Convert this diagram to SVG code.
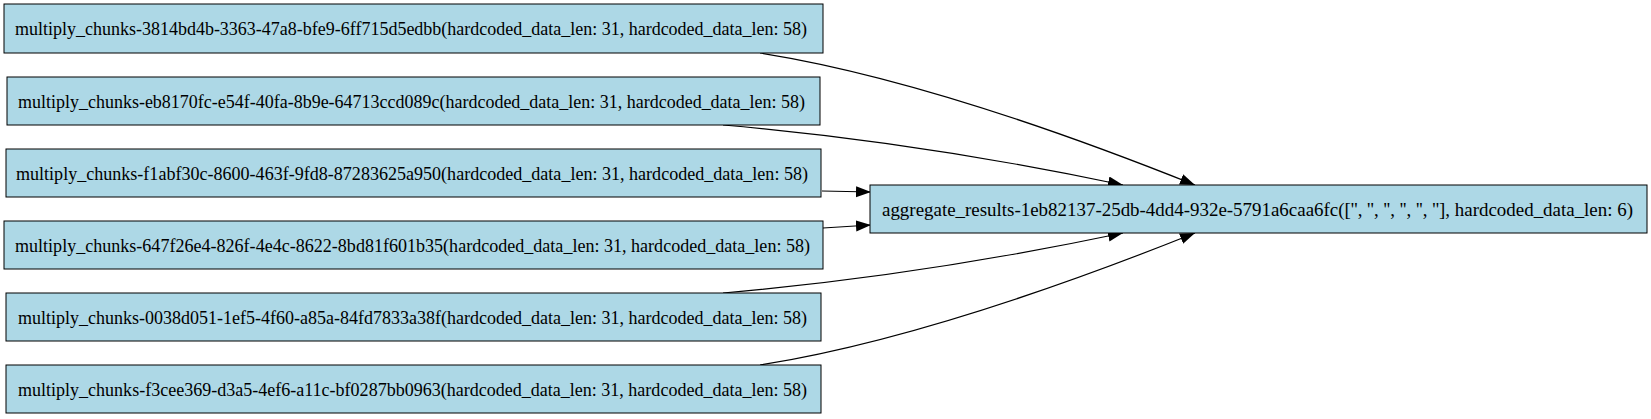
<svg xmlns="http://www.w3.org/2000/svg" width="1651" height="419" viewBox="0 0 1651 419">
<style>
.node rect{fill:#add8e6;stroke:#000;stroke-width:1}
.node text{font-family:'Liberation Serif','Times New Roman',serif;font-size:19px;fill:#000;text-anchor:middle}
.edge path{fill:none;stroke:#000;stroke-width:1.2}
</style>
<defs>
<marker id="arr" markerUnits="userSpaceOnUse" markerWidth="16" markerHeight="12" refX="15" refY="5.5" orient="auto">
<path d="M0,0 L15,5.5 L0,11 z" fill="#000"/>
</marker>
</defs>
<rect width="1651" height="419" fill="#fff"/>
<g id="edges" class="edge">
<path d="M760,53 C880,72 1020,115 1195,185" marker-end="url(#arr)"/>
<path d="M723,125 C850,136 990,157 1123,185" marker-end="url(#arr)"/>
<path d="M822,191 L871,192" marker-end="url(#arr)"/>
<path d="M823,228 L871,225" marker-end="url(#arr)"/>
<path d="M723,293 C850,282 990,261 1123,233" marker-end="url(#arr)"/>
<path d="M760,365 C880,346 1020,303 1195,233" marker-end="url(#arr)"/>
</g>
<g id="n1" class="node"><rect x="4" y="4" width="819" height="49"/><text x="411" y="35" textLength="792" lengthAdjust="spacingAndGlyphs">multiply_chunks-3814bd4b-3363-47a8-bfe9-6ff715d5edbb(hardcoded_data_len: 31, hardcoded_data_len: 58)</text></g>
<g id="n2" class="node"><rect x="7" y="77" width="813" height="48"/><text x="411.5" y="107.5" textLength="787" lengthAdjust="spacingAndGlyphs">multiply_chunks-eb8170fc-e54f-40fa-8b9e-64713ccd089c(hardcoded_data_len: 31, hardcoded_data_len: 58)</text></g>
<g id="n3" class="node"><rect x="6" y="149" width="815" height="48"/><text x="412" y="179.5" textLength="792" lengthAdjust="spacingAndGlyphs">multiply_chunks-f1abf30c-8600-463f-9fd8-87283625a950(hardcoded_data_len: 31, hardcoded_data_len: 58)</text></g>
<g id="n4" class="node"><rect x="4" y="221" width="819" height="48"/><text x="412.5" y="251.5" textLength="795" lengthAdjust="spacingAndGlyphs">multiply_chunks-647f26e4-826f-4e4c-8622-8bd81f601b35(hardcoded_data_len: 31, hardcoded_data_len: 58)</text></g>
<g id="n5" class="node"><rect x="6" y="293" width="815" height="48"/><text x="412.5" y="323.5" textLength="789" lengthAdjust="spacingAndGlyphs">multiply_chunks-0038d051-1ef5-4f60-a85a-84fd7833a38f(hardcoded_data_len: 31, hardcoded_data_len: 58)</text></g>
<g id="n6" class="node"><rect x="6" y="365" width="815" height="48"/><text x="412.5" y="395.5" textLength="789" lengthAdjust="spacingAndGlyphs">multiply_chunks-f3cee369-d3a5-4ef6-a11c-bf0287bb0963(hardcoded_data_len: 31, hardcoded_data_len: 58)</text></g>
<g id="agg" class="node"><rect x="870" y="185" width="777" height="48"/><text x="1257.5" y="215.5" textLength="751" lengthAdjust="spacingAndGlyphs">aggregate_results-1eb82137-25db-4dd4-932e-5791a6caa6fc(['', '', '', '', '', ''], hardcoded_data_len: 6)</text></g>
</svg>
